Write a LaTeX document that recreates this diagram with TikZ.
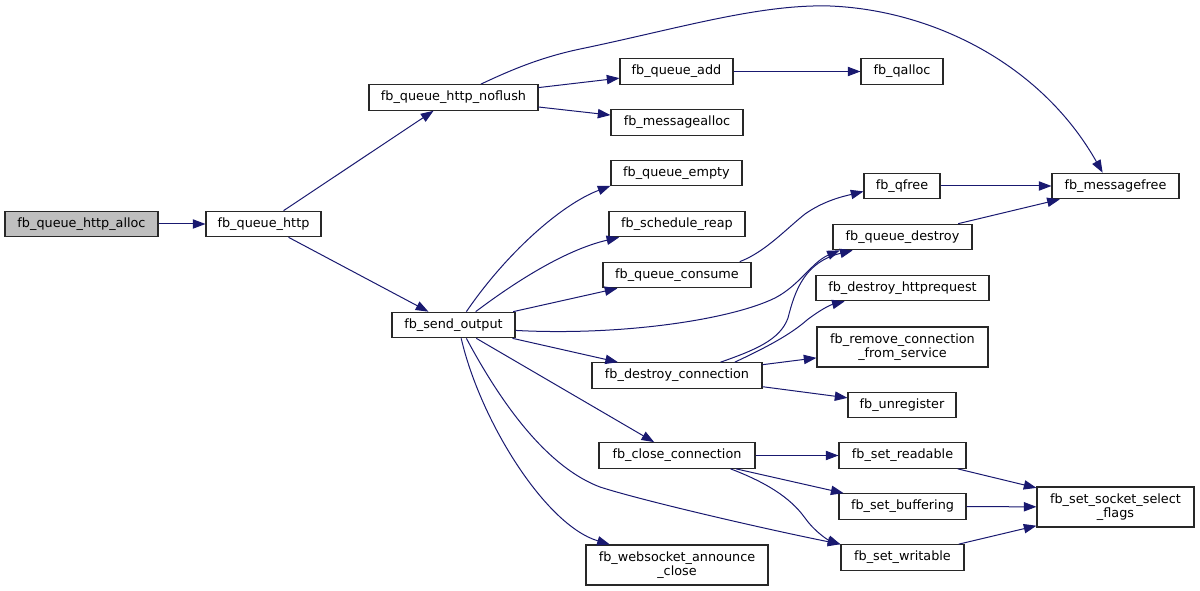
\documentclass[tikz,border=0pt]{standalone}
\usepackage{fontspec}
\setmainfont{DejaVu Sans}
\usepackage{xcolor}
\usepackage{tikz}
\usetikzlibrary{arrows.meta}
\definecolor{edgeblue}{RGB}{25,25,112}
\definecolor{rootgray}{RGB}{191,191,191}
\definecolor{boxline}{RGB}{40,40,40}

\begin{document}
\begin{tikzpicture}[x=0.75pt, y=-0.75pt,
  box/.style={rectangle, draw=boxline, fill=white, line width=0.8pt,
              inner sep=0pt, minimum height=19.2pt,
              font=\fontsize{9.6}{10.6}\selectfont, align=center},
  boxw/.style={minimum width=#1*0.75pt},
  tall/.style={minimum height=30pt},
  arr/.style={-{Triangle[length=9.5pt,width=7pt]}, draw=edgeblue, line width=0.75pt},
]
\useasboundingbox (0,0) rectangle (1200,591);

% CALLER
\node[box, boxw=153, fill=rootgray] (alloc) at (81.5,224) {fb\_queue\_http\_alloc};
\node[box, boxw=115] (http)  at (263.5,224) {fb\_queue\_http};
\node[box, boxw=169] (noflush) at (453.5,97.5) {fb\_queue\_http\_noflush};
\node[box, boxw=123] (send)  at (453.5,325) {fb\_send\_output};

% MIDDLE COLUMN
\node[box, boxw=113] (qadd)    at (676.5,71.5) {fb\_queue\_add};
\node[box, boxw=132] (malloc)  at (677,122.5)  {fb\_messagealloc};
\node[box, boxw=131] (qempty)  at (676.5,173)  {fb\_queue\_empty};
\node[box, boxw=136] (reap)    at (677,224)    {fb\_schedule\_reap};
\node[box, boxw=148] (consume) at (677,275)    {fb\_queue\_consume};
\node[box, boxw=170] (dconn)   at (677,375.5)  {fb\_destroy\_connection};
\node[box, boxw=156] (cconn)   at (677,455.5)  {fb\_close\_connection};
\node[box, boxw=182, tall] (ws) at (677,565)   {fb\_websocket\_announce\\\_close};

% RIGHT COLUMN
\node[box, boxw=82]  (qalloc)    at (902,71.5)   {fb\_qalloc};
\node[box, boxw=76]  (qfree)     at (902,186)    {fb\_qfree};
\node[box, boxw=139] (qdestroy)  at (902.5,237)  {fb\_queue\_destroy};
\node[box, boxw=173] (httpreq)   at (902.5,288)  {fb\_destroy\_httprequest};
\node[box, boxw=171, tall] (remove) at (902.5,347) {fb\_remove\_connection\\\_from\_service};
\node[box, boxw=108] (unreg)     at (902,405)    {fb\_unregister};
\node[box, boxw=127] (readable)  at (902.5,455.5) {fb\_set\_readable};
\node[box, boxw=127] (buffering) at (902.5,506.5) {fb\_set\_buffering};
\node[box, boxw=123] (writable)  at (902.5,557.5) {fb\_set\_writable};
\node[box, boxw=127] (mfree)     at (1115.5,186)  {fb\_messagefree};
\node[box, boxw=157, tall] (flags) at (1115.5,507) {fb\_set\_socket\_select\\\_flags};

% straight calls
\draw[arr] (alloc) -- (http);
\draw[arr] (http) -- (noflush);
\draw[arr] (http) -- (send);
\draw[arr] (noflush) -- (qadd);
\draw[arr] (noflush) -- (malloc);
\draw[arr] (qadd) -- (qalloc);
\draw[arr] (qfree) -- (mfree);
\draw[arr] (qdestroy) -- (mfree);
\draw[arr] (send) -- (consume);
\draw[arr] (send) -- (dconn);
\draw[arr] (send) -- (cconn);
\draw[arr] (dconn) -- (remove);
\draw[arr] (dconn) -- (unreg);
\draw[arr] (cconn) -- (readable);
\draw[arr] (cconn) -- (buffering);
\draw[arr] (readable) -- (flags);
\draw[arr] (buffering) -- (flags);
\draw[arr] (writable) -- (flags);

% curved calls
\draw[arr] (noflush.26) .. controls (515,68) and (545,56) .. (585,48)
  .. controls (680,28) and (760,4) .. (830,6)
  .. controls (930,10) and (1040,62) .. (mfree.134);
\draw[arr] (send.46) .. controls (505,255) and (560,205) .. (qempty.191);
\draw[arr] (send.31) .. controls (515,282) and (565,250) .. (reap.193);
\draw[arr] (consume.12) .. controls (765,252) and (785,230) .. (805,214)
  .. controls (825,200) and (845,196) .. (qfree.188);
\draw[arr] (send.-5) .. controls (620,336) and (730,320) .. (775,298)
  .. controls (800,285) and (812,262) .. (qdestroy.192);
\draw[arr] (dconn.17) .. controls (755,350) and (780,340) .. (788,318)
  .. controls (795,290) and (805,262) .. (qdestroy.195);
\draw[arr] (dconn.13) .. controls (765,348) and (790,335) .. (807,320)
  .. controls (820,310) and (830,305) .. (httpreq.193);
\draw[arr] (send.-60) .. controls (480,420) and (545,525) .. (ws.163);
\draw[arr] (send.-46) .. controls (510,420) and (555,470) .. (600,487)
  .. controls (640,500) and (760,528) .. (writable.north west);
\draw[arr] (cconn.-14) .. controls (765,482) and (790,497) .. (805,518)
  .. controls (815,532) and (828,540) .. (writable.168);
\end{tikzpicture}
\end{document}
